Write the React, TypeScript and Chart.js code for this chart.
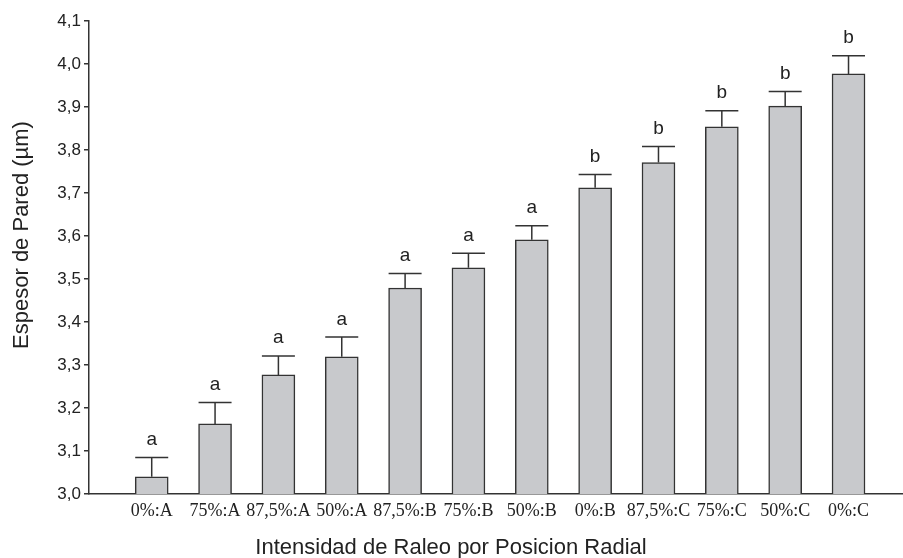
import React, { useEffect, useRef } from 'react';
import { Chart, registerables } from 'chart.js';

Chart.register(...registerables);

const categories = ['0%:A', '75%:A', '87,5%:A', '50%:A', '87,5%:B', '75%:B', '50%:B', '0%:B', '87,5%:C', '75%:C', '50%:C', '0%:C'];
const means = [3.040, 3.163, 3.277, 3.319, 3.479, 3.526, 3.591, 3.712, 3.771, 3.854, 3.902, 3.977];
const errors = [0.045, 0.050, 0.044, 0.046, 0.034, 0.034, 0.033, 0.031, 0.037, 0.037, 0.034, 0.042];
const letters = ['a', 'a', 'a', 'a', 'a', 'a', 'a', 'b', 'b', 'b', 'b', 'b'];
const yTicks = [3.0, 3.1, 3.2, 3.3, 3.4, 3.5, 3.6, 3.7, 3.8, 3.9, 4.0, 4.1];
const yTitle = 'Espesor de Pared (µm)';
const xTitle = 'Intensidad de Raleo por Posicion Radial';

const SANS = '"Liberation Sans", Arial, Helvetica, sans-serif';
const SERIF = '"Liberation Serif", "Times New Roman", serif';
const INK = '#333333';
const TEXT = '#222222';

const overlayPlugin = {
  id: 'overlay',
  afterDatasetsDraw(chart: any) {
    const ctx = chart.ctx;
    const xs = chart.scales.x;
    const ys = chart.scales.y;
    ctx.save();
    ctx.strokeStyle = INK;
    ctx.lineWidth = 1.5;
    ctx.fillStyle = TEXT;
    ctx.font = `19px ${SANS}`;
    ctx.textAlign = 'center';
    ctx.textBaseline = 'alphabetic';
    categories.forEach((_, i) => {
      const x = xs.getPixelForValue(i);
      const yTop = ys.getPixelForValue(means[i]);
      const yCap = ys.getPixelForValue(means[i] + errors[i]);
      ctx.beginPath();
      ctx.moveTo(x, yTop);
      ctx.lineTo(x, yCap);
      ctx.moveTo(x - 16.5, yCap);
      ctx.lineTo(x + 16.5, yCap);
      ctx.stroke();
      ctx.fillText(letters[i], x, yCap - 12.5);
    });
    ctx.restore();
  },
  afterDraw(chart: any) {
    const ctx = chart.ctx;
    ctx.save();
    ctx.fillStyle = TEXT;
    ctx.font = `22px ${SANS}`;
    ctx.textAlign = 'center';
    ctx.textBaseline = 'alphabetic';
    ctx.fillText(xTitle, 451, 554);
    ctx.translate(28, 235);
    ctx.rotate(-Math.PI / 2);
    ctx.fillText(yTitle, 0, 0);
    ctx.restore();
  },
};

export default function App() {
  const canvasRef = useRef<HTMLCanvasElement | null>(null);

  useEffect(() => {
    document.body.style.margin = '0';
    const canvas = canvasRef.current;
    if (!canvas) return;
    const chart = new Chart(canvas, {
      type: 'bar',
      data: {
        datasets: [
          {
            data: categories.map((_, i) => ({ x: i, y: means[i] })),
            backgroundColor: '#c8c9cc',
            borderColor: INK,
            borderWidth: 1.5,
            borderSkipped: false,
            barThickness: 33,
          } as any,
        ],
      },
      options: {
        animation: false,
        responsive: false,
        devicePixelRatio: 1,
        layout: { padding: { top: 21, left: 0, right: 0, bottom: 0 } },
        plugins: {
          legend: { display: false },
          tooltip: { enabled: false },
          title: { display: false },
        },
        scales: {
          x: {
            type: 'linear',
            min: -0.99,
            max: 11.86,
            offset: false,
            grid: { display: false, offset: false, drawTicks: false },
            border: { display: true, color: INK, width: 1.5 },
            afterBuildTicks: (s: any) => {
              s.ticks = categories.map((_, i) => ({ value: i }));
            },
            afterFit: (s: any) => {
              s.height = 64;
            },
            ticks: {
              autoSkip: false,
              maxRotation: 0,
              minRotation: 0,
              padding: 6,
              color: TEXT,
              font: { family: SERIF, size: 18 },
              callback: (v: any) => categories[Math.round(Number(v))] ?? '',
            },
          },
          y: {
            type: 'linear',
            min: 3.0,
            max: 4.1,
            grid: {
              display: true,
              drawOnChartArea: false,
              drawTicks: true,
              tickLength: 5,
              color: INK,
              lineWidth: 1.5,
            },
            border: { display: true, color: INK, width: 1.5 },
            afterBuildTicks: (s: any) => {
              s.ticks = yTicks.map((v) => ({ value: v }));
            },
            afterFit: (s: any) => {
              s.width = 89;
            },
            ticks: {
              padding: 3,
              color: TEXT,
              font: { family: SANS, size: 17 },
              callback: (v: any) => Number(v).toFixed(1).replace('.', ','),
            },
          },
        },
      } as any,
      plugins: [overlayPlugin],
    });
    return () => chart.destroy();
  }, []);

  return (
    <div style={{ width: 903, height: 558, background: '#ffffff' }}>
      <canvas ref={canvasRef} width={903} height={558} style={{ display: 'block' }} />
    </div>
  );
}
